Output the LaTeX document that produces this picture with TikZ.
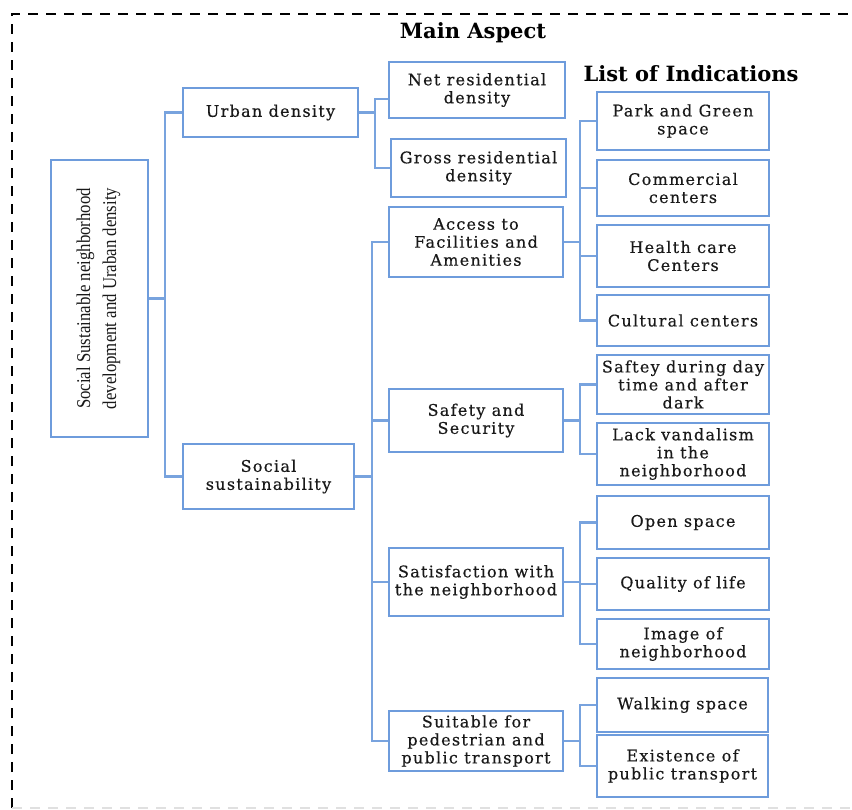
\documentclass[tikz,border=0pt]{standalone}
\usepackage{fontspec}
\setmainfont{DejaVu Serif}
\newfontfamily\boxfont{DejaVu Serif}[LetterSpace=8, FakeBold=0.4]
\newfontfamily\rootfont{Liberation Serif}
\newfontfamily\titlefont{DejaVu Serif}
\definecolor{bluebox}{RGB}{110,156,220}
\definecolor{blueline}{RGB}{120,163,222}
\definecolor{txt}{RGB}{25,25,25}
\tikzset{
  box/.style={draw=bluebox, line width=2.2pt, rectangle, align=center, inner sep=1pt,
    text=txt, font=\boxfont\fontsize{16}{18}\selectfont},
  conn/.style={draw=blueline, line width=2.2pt},
  ttl/.style={font=\titlefont\bfseries\fontsize{21}{23}\selectfont, text=black, inner sep=0pt},
}
\newcommand{\bx}[6]{%
  \pgfmathsetmacro{\bw}{#4-#2}\pgfmathsetmacro{\bh}{#5-#3}%
  \pgfmathsetmacro{\cx}{(#2+#4)/2}\pgfmathsetmacro{\cy}{(#3+#5)/2}%
  \node[box, minimum width=\bw pt, minimum height=\bh pt] (#1) at (\cx,\cy) {#6};}
\begin{document}
\begin{tikzpicture}[x=1pt,y=-1pt]
\useasboundingbox (0,0) rectangle (852,810);
\fill[white] (0,0) rectangle (852,810);
% dashed frame
\draw[black, line width=2.2pt, dash pattern=on 10pt off 8pt] (12,808) -- (12,14) -- (860,14);
\draw[black!12, line width=1.6pt, dash pattern=on 10pt off 8pt] (12,808) -- (860,808);
% titles
\node[ttl] (t1) at (473,33) {Main Aspect};
\node[ttl] (t2) at (691,74) {List of Indications};
% root
\node[draw=bluebox, line width=2.2pt, minimum width=97pt, minimum height=277pt, inner sep=0pt] (root) at (99.5,298.5) {};
\node[rotate=90, xscale=0.86, align=center, text=txt, font=\rootfont\fontsize{19.5}{26}\selectfont, inner sep=0pt] (roottext) at (98.5,298.5) {Social Sustainable neighborhood\\development and Uraban density};
% level 1
\bx{urban}{183}{88}{358}{137}{Urban density}
\bx{social}{183}{444}{354}{509}{Social\\sustainability}
% level 2
\bx{net}{389}{62}{565}{118}{Net residential\\density}
\bx{gross}{391}{139}{566}{197}{Gross residential\\density}
\bx{access}{389}{207}{563}{277}{Access to\\Facilities and\\Amenities}
\bx{safety}{389}{389}{563}{452}{Safety and\\Security}
\bx{satis}{389}{548}{563}{616}{Satisfaction with\\the neighborhood}
\bx{suit}{389}{711}{563}{771}{Suitable for\\pedestrian and\\public transport}
% indicators
\bx{park}{597}{92}{769}{150}{Park and Green\\space}
\bx{comm}{597}{160}{769}{216}{Commercial\\centers}
\bx{health}{597}{225}{769}{287}{Health care\\Centers}
\bx{cult}{597}{295}{769}{346}{Cultural centers}
\bx{saft}{597}{355}{769}{414}{Saftey during day\\time and after\\dark}
\bx{lack}{597}{423}{769}{485}{Lack vandalism\\in the\\neighborhood}
\bx{open}{597}{496}{769}{549}{Open space}
\bx{qual}{597}{558}{769}{610}{Quality of life}
\bx{image}{597}{619}{769}{669}{Image of\\neighborhood}
\bx{walk}{597}{678}{768}{732}{Walking space}
\bx{exist}{597}{735}{768}{797}{Existence of\\public transport}
% branch coordinates
\coordinate (xr) at (165,0);
\coordinate (xu) at (375,0);
\coordinate (xs) at (372,0);
\coordinate (xi) at (580,0);
% connectors
\draw[conn] (root.east) -- (root.east -| xr);
\draw[conn] (urban.west) -| (xr |- social.west) -- (social.west);
\draw[conn] (urban.east) -- (urban.east -| xu);
\draw[conn] ([yshift=-9pt]net.west) -| (xu |- gross.west) -- (gross.west);
\draw[conn] (social.east) -- (social.east -| xs);
\draw[conn] (access.west) -| (xs |- suit.west) -- (suit.west);
\draw[conn] (safety.west) -- (safety.west -| xs);
\draw[conn] (satis.west) -- (satis.west -| xs);
\draw[conn] (access.east) -- (access.east -| xi);
\draw[conn] (park.west) -| (xi |- cult.west) -- (cult.west);
\draw[conn] (comm.west) -- (comm.west -| xi);
\draw[conn] (health.west) -- (health.west -| xi);
\draw[conn] (safety.east) -- (safety.east -| xi);
\draw[conn] (saft.west) -| (xi |- lack.west) -- (lack.west);
\draw[conn] (satis.east) -- (satis.east -| xi);
\draw[conn] (open.west) -| (xi |- image.west) -- (image.west);
\draw[conn] (qual.west) -- (qual.west -| xi);
\draw[conn] (suit.east) -- (suit.east -| xi);
\draw[conn] (walk.west) -| (xi |- exist.west) -- (exist.west);
\end{tikzpicture}
\end{document}
